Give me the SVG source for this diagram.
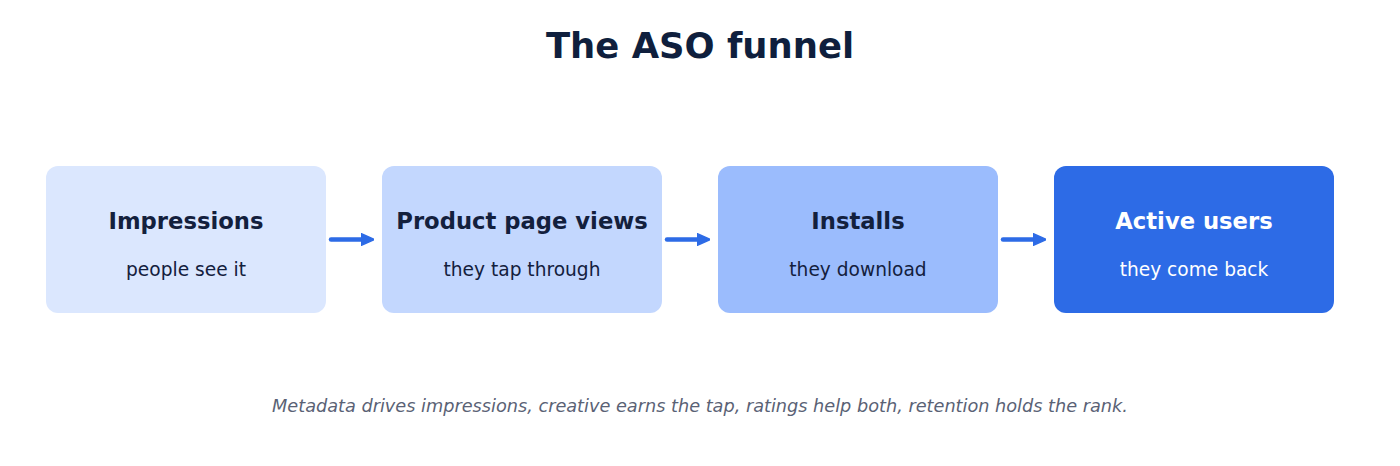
<svg xmlns="http://www.w3.org/2000/svg" width="1400" height="466" viewBox="0 0 1400 466">
<style>
.title{font-family:"DejaVu Sans",sans-serif;font-weight:bold;font-size:35.4px;fill:#0f1f3d;text-anchor:middle}
.nt{font-family:"DejaVu Sans",sans-serif;font-weight:bold;font-size:22.7px;fill:#13203d;text-anchor:middle}
.ns{font-family:"DejaVu Sans",sans-serif;font-size:18.6px;fill:#13203d;text-anchor:middle}
.light .nt,.light .ns{fill:#ffffff}
.foot{font-family:"DejaVu Sans",sans-serif;font-style:italic;font-size:17.7px;fill:#5a6275;text-anchor:middle}
.conn{stroke:#2d6be6;stroke-width:4.5;stroke-linecap:round;fill:none}
</style>
<defs>
<marker id="ah" viewBox="0 0 10 10" refX="3" refY="5" markerWidth="3" markerHeight="3" orient="auto" markerUnits="strokeWidth">
<path d="M0,0.5 L10,5 L0,9.5 z" fill="#2d6be6" stroke="#2d6be6" stroke-width="1" stroke-linejoin="round"/>
</marker>
</defs>
<rect width="1400" height="466" fill="#ffffff"/>
<text class="title" x="700" y="58">The ASO funnel</text>
<g id="n1"><rect x="46" y="166" width="280" height="147" rx="12" fill="#dbe7fe"/><text class="nt" x="186" y="229">Impressions</text><text class="ns" x="186" y="276">people see it</text></g>
<g id="n2"><rect x="382" y="166" width="280" height="147" rx="12" fill="#c3d7fe"/><text class="nt" x="522" y="229">Product page views</text><text class="ns" x="522" y="276">they tap through</text></g>
<g id="n3"><rect x="718" y="166" width="280" height="147" rx="12" fill="#9bbcfd"/><text class="nt" x="858" y="229">Installs</text><text class="ns" x="858" y="276">they download</text></g>
<g id="n4" class="light"><rect x="1054" y="166" width="280" height="147" rx="12" fill="#2d6be6"/><text class="nt" x="1194" y="229">Active users</text><text class="ns" x="1194" y="276">they come back</text></g>
<g id="connectors">
<line class="conn" x1="331" y1="239.5" x2="365" y2="239.5" marker-end="url(#ah)"/>
<line class="conn" x1="667" y1="239.5" x2="701" y2="239.5" marker-end="url(#ah)"/>
<line class="conn" x1="1003" y1="239.5" x2="1037" y2="239.5" marker-end="url(#ah)"/>
</g>
<text class="foot" x="700" y="412">Metadata drives impressions, creative earns the tap, ratings help both, retention holds the rank.</text>
</svg>
